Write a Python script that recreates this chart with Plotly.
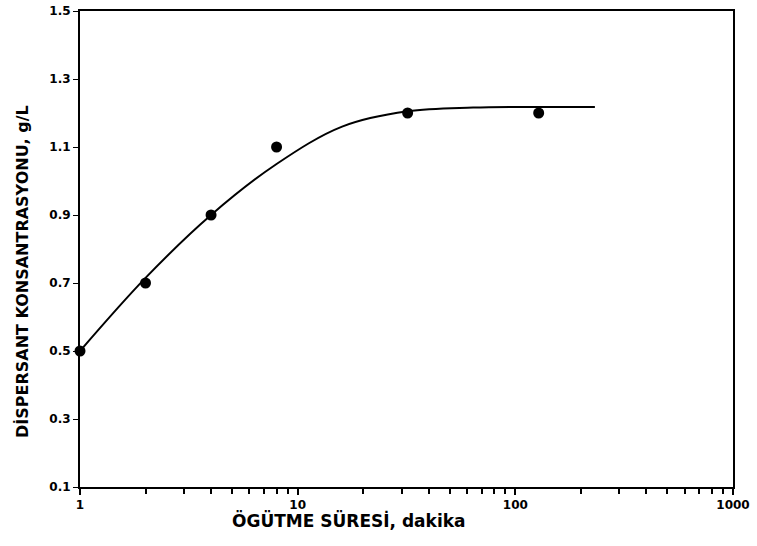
import plotly.graph_objects as go

# Measured data points
time_min = [1, 2, 4, 8, 32, 128]
conc = [0.5, 0.7, 0.9, 1.1, 1.2, 1.2]

# Fitted curve
curve_x = [1, 2, 4, 8, 16, 32, 64, 120, 232]
curve_y = [0.5, 0.715, 0.9, 1.05, 1.16, 1.205, 1.216, 1.218, 1.218]

x_tickvals = [1, 10, 100, 1000]
x_ticktext = ["1", "10", "100", "1000"]
y_tickvals = [0.1, 0.3, 0.5, 0.7, 0.9, 1.1, 1.3, 1.5]
y_ticktext = ["0.1", "0.3", "0.5", "0.7", "0.9", "1.1", "1.3", "1.5"]

x_title = "ÖGÜTME SÜRESİ, dakika"
y_title = "DİSPERSANT KONSANTRASYONU, g/L"

FONT = "DejaVu Sans"

fig = go.Figure()
fig.add_trace(go.Scatter(x=curve_x, y=curve_y, mode="lines",
                         line=dict(color="black", width=2, shape="spline", smoothing=1.0),
                         showlegend=False, hoverinfo="skip"))
fig.add_trace(go.Scatter(x=time_min, y=conc, mode="markers",
                         marker=dict(color="black", size=11),
                         showlegend=False, cliponaxis=False))

fig.update_layout(
    width=757, height=546,
    margin=dict(l=80, r=24, t=11, b=59, autoexpand=False),
    plot_bgcolor="white", paper_bgcolor="white",
    font=dict(family=FONT, color="black", size=12, weight="bold"),
    xaxis=dict(
        type="log", range=[0, 3], automargin=False,
        tickvals=x_tickvals, ticktext=x_ticktext,
        ticks="outside", ticklen=6, tickwidth=2, tickcolor="black",
        minor=dict(ticks="outside", ticklen=5, tickwidth=2, tickcolor="black",
                   dtick="D1", showgrid=False),
        showline=True, linecolor="black", linewidth=2, mirror=True,
        showgrid=False, zeroline=False,
        tickfont=dict(size=12, weight="bold"),
    ),
    yaxis=dict(
        range=[0.1, 1.5], automargin=False,
        tickvals=y_tickvals, ticktext=y_ticktext,
        ticks="outside", ticklen=5, tickwidth=1, tickcolor="black",
        showline=True, linecolor="black", linewidth=2, mirror=True,
        showgrid=False, zeroline=False,
        tickfont=dict(size=12, weight="bold"),
    ),
    annotations=[
        dict(text=x_title, xref="paper", yref="paper", x=(349 - 80) / 653, y=-(520 - 487) / 476,
             xanchor="center", yanchor="middle", showarrow=False,
             font=dict(size=17, weight="bold", family=FONT)),
        dict(text=y_title, xref="paper", yref="paper", x=-(80 - 22) / 653, y=(487 - 272) / 476,
             xanchor="center", yanchor="middle", showarrow=False, textangle=-90,
             font=dict(size=16, weight="bold", family=FONT)),
    ],
)

fig.write_html("out.html")
